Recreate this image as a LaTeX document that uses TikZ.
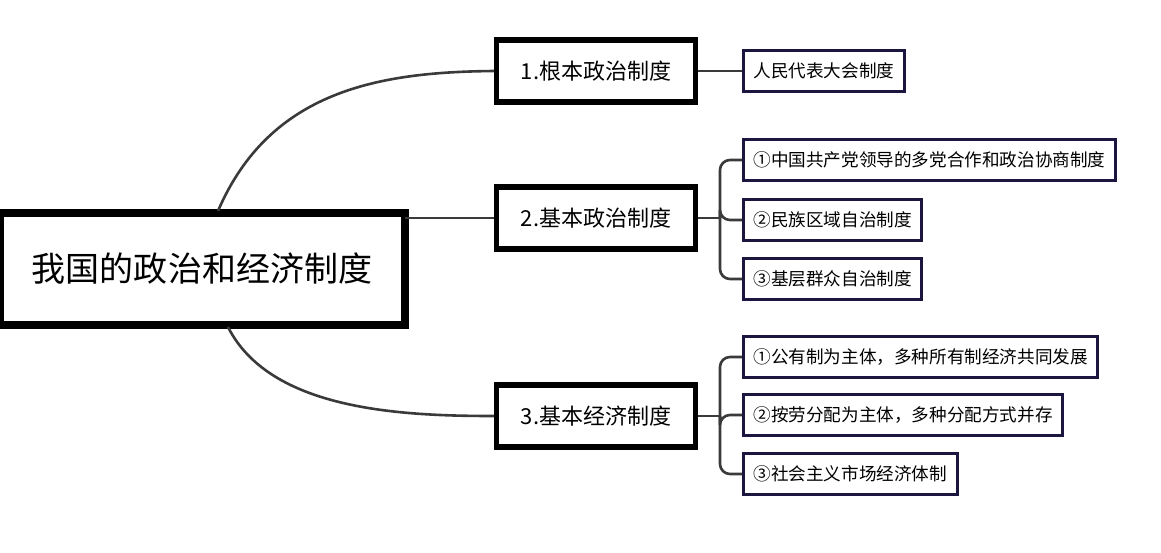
\documentclass[tikz,border=0pt]{standalone}
\usepackage{fontspec}
\setmainfont{Noto Sans CJK SC}
\usetikzlibrary{calc,positioning}
\definecolor{LeafNavy}{HTML}{1A1640}
\definecolor{ConnGray}{HTML}{3A3A3A}
\tikzset{
  root/.style={draw=black, line width=4pt, minimum width=202.5pt, minimum height=56pt, font=\fontsize{17}{19}\selectfont, inner sep=0pt},
  branch/.style={draw=black, line width=2.6pt, minimum width=99.5pt, minimum height=31pt, font=\fontsize{11}{13}\selectfont, anchor=west, inner sep=0pt},
  leaf/.style={draw=LeafNavy, line width=1.5pt, minimum height=20.5pt, font=\fontsize{8.8}{10}\selectfont, anchor=west, inner xsep=5pt},
  conn/.style={draw=ConnGray, line width=1.3pt},
}
\begin{document}
\begin{tikzpicture}[x=0.5pt, y=-0.5pt]
  \useasboundingbox (0,0) rectangle (1161,552);
  % Zentralknoten
  \node[root] (root) at (202,269) {我国的政治和经济制度};

  % Hauptzweige
  \node[branch] (b1) at (494,71) {1.根本政治制度};
  \node[branch] (b2) at (494,218) {2.基本政治制度};
  \node[branch] (b3) at (494,416) {3.基本经济制度};

  % Blaetter
  \node[leaf] (l1) at (742,71) {人民代表大会制度};
  \node[leaf] (l2a) at (742,160) {①中国共产党领导的多党合作和政治协商制度};
  \node[leaf] (l2b) at (742,220) {②民族区域自治制度};
  \node[leaf] (l2c) at (742,279) {③基层群众自治制度};
  \node[leaf] (l3a) at (742,357) {①公有制为主体，多种所有制经济共同发展};
  \node[leaf] (l3b) at (742,415) {②按劳分配为主体，多种分配方式并存};
  \node[leaf] (l3c) at (742,474) {③社会主义市场经济体制};

  % Verbindungen
  \coordinate (r1) at (218,211);
  \coordinate (r2) at (405,218);
  \coordinate (r3) at (228,327);
  \draw[conn] (r1) .. controls (270,90) and (380,72) .. (b1.west);
  \draw[conn] (r2) -- (b2.west);
  \draw[conn] (r3) .. controls (270,410) and (400,416) .. (b3.west);

  \draw[conn] (b1.east) -- (l1.west);
  \coordinate (j2) at (720,218);
  \coordinate (j3) at (720,416);
  \draw[conn] (b2.east) -- (j2);
  \draw[conn] (b3.east) -- (j3);
  \foreach \l in {l2a,l2b,l2c}
    \draw[conn, rounded corners=5pt] (j2) |- (\l.west);
  \foreach \l in {l3a,l3b,l3c}
    \draw[conn, rounded corners=5pt] (j3) |- (\l.west);
\end{tikzpicture}
\end{document}
